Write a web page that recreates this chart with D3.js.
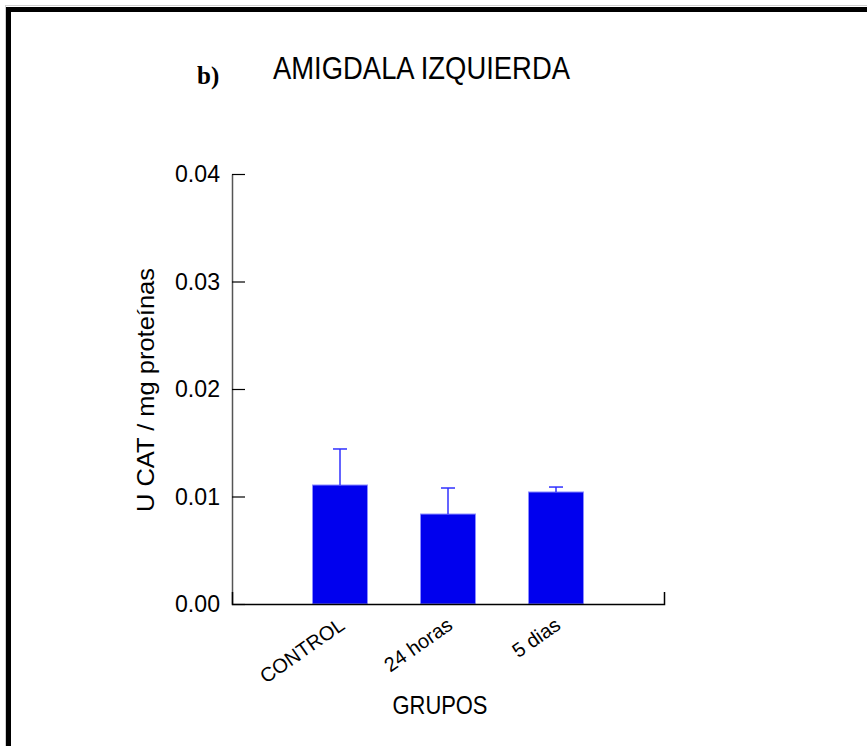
<!DOCTYPE html>
<html>
<head>
<meta charset="utf-8">
<script src="https://cdn.jsdelivr.net/npm/d3@7"></script>
<style>
  html, body { margin: 0; padding: 0; background: #fff; }
  svg { display: block; }
</style>
</head>
<body>
<svg id="chart" width="867" height="746"></svg>
<script>
// ---- data ----
const categories = ["CONTROL", "24 horas", "5 dias"];
const means = [0.01107, 0.00837, 0.01042];
const errors = [0.00335, 0.00242, 0.00046];
const yTicks = [0.00, 0.01, 0.02, 0.03, 0.04];
const titleText = "AMIGDALA IZQUIERDA";
const panelLabel = "b)";
const yLabel = "U CAT / mg proteínas";
const xLabel = "GRUPOS";

const SANS = "Liberation Sans, Arial, sans-serif";
const SERIF = "Liberation Serif, Times New Roman, serif";

const svg = d3.select("#chart");

// frame
svg.append("rect").attr("x", 5.5).attr("y", 5.5).attr("width", 900).attr("height", 900)
  .attr("fill", "none").attr("stroke", "#cfcfcf").attr("stroke-width", 1);
svg.append("rect").attr("x", 8.5).attr("y", 9.5).attr("width", 900).attr("height", 900)
  .attr("fill", "none").attr("stroke", "#000").attr("stroke-width", 5);

const x0 = 232, x1 = 664, yTop = 174, yBot = 604;

const x = d3.scalePoint().domain(categories).range([x0, x1]).padding(1);
const y = d3.scaleLinear().domain([0, 0.04]).range([yBot, yTop]);
const barW = 55;

// bars
svg.append("g").selectAll("rect").data(categories).join("rect")
  .attr("x", d => x(d) - barW / 2)
  .attr("y", (d, i) => y(means[i]))
  .attr("width", barW)
  .attr("height", (d, i) => y(0) - y(means[i]))
  .attr("fill", "#0000ee")
  .attr("stroke", "#8c8cff")
  .attr("stroke-width", 1);

// error bars
const eg = svg.append("g").attr("stroke", "#3030ff").attr("stroke-width", 1.5);
categories.forEach((c, i) => {
  eg.append("line").attr("x1", x(c)).attr("x2", x(c))
    .attr("y1", y(means[i])).attr("y2", y(means[i] + errors[i]));
  eg.append("line").attr("x1", x(c) - 7).attr("x2", x(c) + 7)
    .attr("y1", y(means[i] + errors[i])).attr("y2", y(means[i] + errors[i]));
});

// y axis
const yAxis = d3.axisLeft(y).tickValues(yTicks).tickFormat(d3.format(".2f"))
  .tickSize(-13).tickSizeOuter(0).tickPadding(12);
const yg = svg.append("g").attr("transform", `translate(${x0},0)`).call(yAxis);
yg.select(".domain").attr("stroke", "#555").attr("stroke-width", 1.5);
yg.selectAll(".tick line").attr("stroke", "#000").attr("stroke-width", 1.2);
yg.selectAll(".tick text").attr("fill", "#000")
  .style("font-size", "24px").style("font-family", SANS)
  .attr("textLength", 45).attr("lengthAdjust", "spacingAndGlyphs");

// x axis
const xAxis = d3.axisBottom(x).tickSize(0).tickSizeOuter(-12).tickFormat("");
const xg = svg.append("g").attr("transform", `translate(0,${yBot})`).call(xAxis);
xg.select(".domain").attr("stroke", "#000").attr("stroke-width", 1.5);

// category labels
svg.append("g").selectAll("text").data(categories).join("text")
  .attr("transform", d => `translate(${x(d) + 6},${yBot + 24}) rotate(-35)`)
  .attr("text-anchor", "end")
  .style("font-size", "20px").style("font-family", SANS)
  .attr("fill", "#000")
  .text(d => d);

// title
svg.append("text").attr("x", 273).attr("y", 79)
  .style("font-size", "31px").style("font-family", SANS)
  .attr("textLength", 297).attr("lengthAdjust", "spacingAndGlyphs")
  .attr("fill", "#000").text(titleText);
svg.append("text").attr("x", 197).attr("y", 84)
  .style("font-size", "25px").style("font-weight", "bold").style("font-family", SERIF)
  .attr("fill", "#000").text(panelLabel);

// axis titles
svg.append("text").attr("transform", `translate(154,390) rotate(-90)`)
  .attr("text-anchor", "middle")
  .style("font-size", "24px").style("font-family", SANS)
  .attr("textLength", 244).attr("lengthAdjust", "spacingAndGlyphs")
  .attr("fill", "#000").text(yLabel);
svg.append("text").attr("x", 440).attr("y", 714).attr("text-anchor", "middle")
  .style("font-size", "25px").style("font-family", SANS)
  .attr("textLength", 95).attr("lengthAdjust", "spacingAndGlyphs")
  .attr("fill", "#000").text(xLabel);
</script>
</body>
</html>
